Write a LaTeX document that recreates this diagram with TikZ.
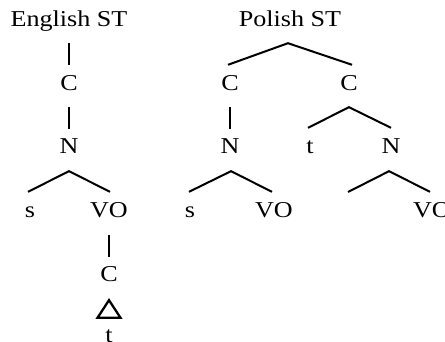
\documentclass[tikz,border=0pt]{standalone}
\usepackage{fontspec}
\setmainfont{Liberation Serif}[FakeStretch=1.15]
\begin{document}
\begin{tikzpicture}[x=1pt,y=-1pt,
  lab/.style={anchor=base, inner sep=0pt, text height=15pt, text depth=0pt,
              font=\fontsize{22.7}{26}\selectfont},
  br/.style={line width=2pt, line join=miter}]
\useasboundingbox (0,0) rectangle (445,342);
% English ST
\node[lab] (e)   at (69,27)  {English ST};
\node[lab] (ec)  at (69,91)  {C};
\node[lab] (en)  at (69,154) {N};
\node[lab] (es)  at (30,218) {s};
\node[lab] (evo) at (109,218) {VO};
\node[lab] (ec2) at (109,281) {C};
\node[lab] (et)  at (109,342.5) {t};
\draw[br] ([yshift=-16pt]e.south) -- ([yshift=11pt]ec.north);
\draw[br] ([yshift=-16pt]ec.south) -- ([yshift=10pt]en.north);
\draw[br] ([xshift=-2pt,yshift=11pt]es.north) -- ([yshift=-17pt]en.south)
          -- ([xshift=1pt,yshift=11pt]evo.north);
\draw[br] ([yshift=-17pt]evo.south) -- ([yshift=9pt]ec2.north);
\draw[br, line width=2.3pt] ([yshift=-19pt]ec2.south) -- ([xshift=-11.5pt,yshift=9.5pt]et.north)
          -- ([xshift=11.5pt,yshift=9.5pt]et.north) -- cycle;
% Polish ST
\node[lab] (p)    at (290,27)  {Polish ST};
\node[lab] (pc1)  at (230,91)  {C};
\node[lab] (pc2)  at (349,91)  {C};
\node[lab] (pn1)  at (230,154) {N};
\node[lab] (pt)   at (310,154) {t};
\node[lab] (pn2)  at (391,154) {N};
\node[lab] (ps)   at (190,218) {s};
\node[lab] (pvo1) at (274,218) {VO};
\node[lab] (pvo2) at (432,218) {VO};
\coordinate (pgap) at (348,192);
\draw[br] ([xshift=-2pt,yshift=11pt]pc1.north) -- ([xshift=-2pt,yshift=-16pt]p.south)
          -- ([xshift=3pt,yshift=11pt]pc2.north);
\draw[br] ([yshift=-16pt]pc1.south) -- ([yshift=10pt]pn1.north);
\draw[br] ([xshift=-2pt,yshift=11pt]pt.north) -- ([yshift=-16pt]pc2.south)
          -- ([yshift=11pt]pn2.north);
\draw[br] ([xshift=-1pt,yshift=11pt]ps.north) -- ([xshift=1pt,yshift=-17pt]pn1.south)
          -- ([xshift=-2pt,yshift=11pt]pvo1.north);
\draw[br] (pgap) -- ([xshift=-2pt,yshift=-17pt]pn2.south)
          -- ([xshift=-2pt,yshift=11pt]pvo2.north);
\end{tikzpicture}
\end{document}
